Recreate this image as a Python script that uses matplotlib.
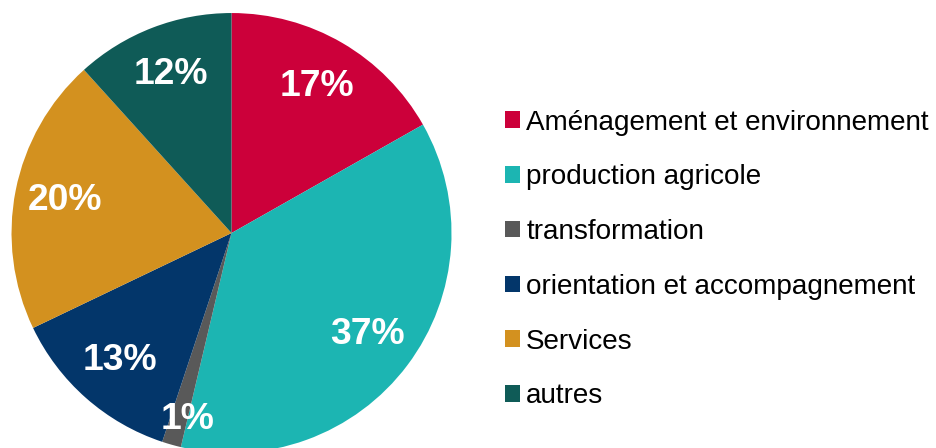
import matplotlib
matplotlib.use("Agg")
import matplotlib.pyplot as plt
from matplotlib.patches import Patch
import numpy as np

plt.rcParams["font.family"] = ["Liberation Sans", "DejaVu Sans"]

categories = [
    "Aménagement et environnement",
    "production agricole",
    "transformation",
    "orientation et accompagnement",
    "Services",
    "autres",
]
shares = [16.8, 36.9, 1.4, 12.8, 20.4, 11.7]
pct_labels = ["17%", "37%", "1%", "13%", "20%", "12%"]
colors = ["#CC003A", "#1CB5B2", "#595959", "#03366A", "#D3911F", "#0F5B57"]

fig = plt.figure(figsize=(9.36, 4.48), dpi=100)
# pie axes: centre ~(231, 233) px, radius ~220 px
ax = fig.add_axes([0.0123, -0.0112, 0.4701, 0.9821])

wedges, _ = ax.pie(shares, colors=colors, startangle=90, counterclock=False,
                   radius=1.0, wedgeprops=dict(linewidth=0))
ax.set_xlim(-1, 1)
ax.set_ylim(-1, 1)
ax.set_aspect("equal")
ax.axis("off")

# percentage labels, the 1% one pushed out a bit like the original
for w, lab in zip(wedges, pct_labels):
    mid = np.deg2rad((w.theta1 + w.theta2) / 2)
    if lab == "1%":
        mid += np.deg2rad(2.5)
        dist = 0.87
    else:
        dist = 0.77
    ax.text(dist * np.cos(mid), dist * np.sin(mid), lab, ha="center", va="center",
            color="white", fontsize=26.8, fontweight="bold")

handles = [Patch(facecolor=c, edgecolor="none") for c in colors]
fig.legend(handles, categories, loc="center left", bbox_to_anchor=(0.5395, 0.4210),
           frameon=False, fontsize=20.1, handlelength=0.54, handleheight=0.54,
           handletextpad=0.22, labelspacing=1.03, borderpad=0, borderaxespad=0)

fig.savefig("out.png", dpi=100)
